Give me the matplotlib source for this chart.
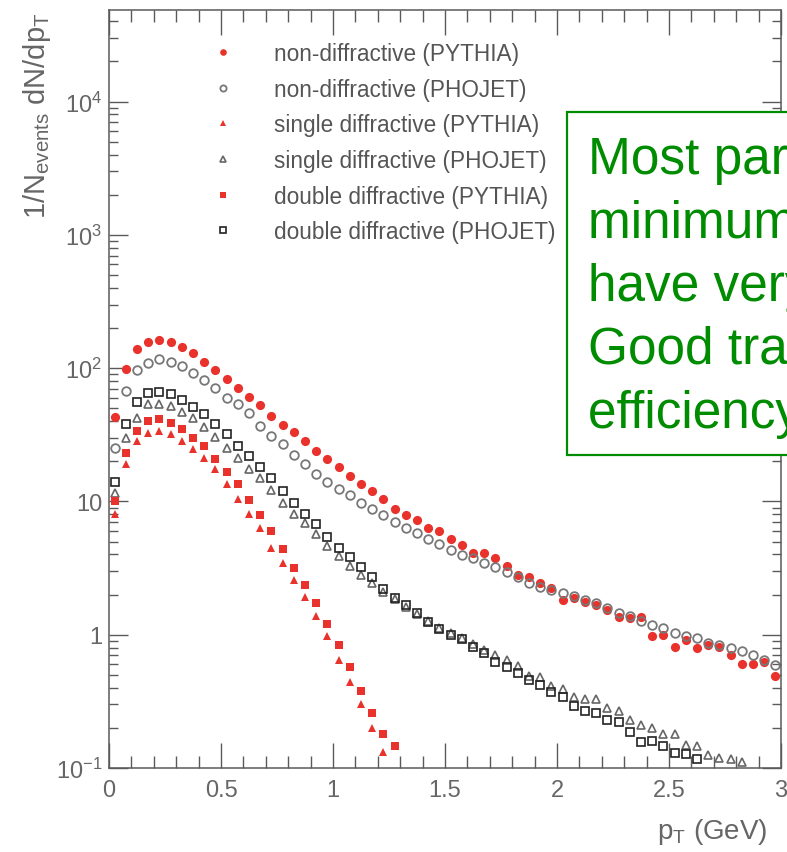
import numpy as np
import matplotlib
matplotlib.use("Agg")
import matplotlib.pyplot as plt
from matplotlib.patches import Rectangle
from matplotlib.ticker import FixedLocator, FixedFormatter, LogLocator, MultipleLocator, NullFormatter

plt.rcParams['font.family'] = ['Liberation Sans', 'DejaVu Sans']
plt.rcParams['mathtext.fontset'] = 'custom'
plt.rcParams['mathtext.rm'] = 'Liberation Sans'
plt.rcParams['mathtext.it'] = 'Liberation Sans:italic'

# histogram bin centres (0.05 GeV bins)
pt = np.round(np.arange(0.025, 3.0, 0.05), 3)

nd_pythia = [43, 99, 140, 157, 164, 156, 144, 129, 111, 97,
             83, 71, 61, 53, 44, 37.6, 32.9, 28.2, 24.0, 20.9,
             18.2, 15.4, 13.6, 11.9, 10.5, 8.7, 7.9, 7.2, 6.3, 6.0,
             5.2, 4.7, 4.1, 4.1, 3.76, 3.27, 2.8, 2.7, 2.44, 2.24,
             1.82, 1.89, 1.76, 1.67, 1.54, 1.36, 1.34, 1.36, 0.98, 1.0,
             0.81, 0.92, 0.80, 0.84, 0.81, 0.70, 0.60, 0.60, 0.62, 0.49]
nd_phojet = [25, 67, 97, 110, 117, 112, 103, 92, 81, 71,
             60, 54, 46, 37, 31, 27, 22.4, 19.2, 16.2, 13.9,
             12.5, 11.1, 9.8, 8.8, 7.9, 7.0, 6.3, 5.8, 5.2, 4.8,
             4.3, 3.95, 3.75, 3.45, 3.2, 2.95, 2.7, 2.44, 2.28, 2.18,
             2.06, 1.95, 1.83, 1.72, 1.58, 1.46, 1.37, 1.27, 1.19, 1.13,
             1.03, 0.97, 0.94, 0.87, 0.84, 0.80, 0.75, 0.71, 0.65, 0.59]
sd_pythia = [8.1, 19.2, 28.5, 32.5, 33.7, 32, 28.5, 24.9, 21.3, 17.6,
             13.6, 10.5, 8.1, 6.3, 4.5, 3.45, 2.57, 1.93, 1.37, 0.97,
             0.65, 0.44, 0.30, 0.20, 0.131]
sd_phojet = [11.5, 30, 42, 54, 54, 52, 47, 42, 36, 30.5,
             25.3, 21.3, 17.6, 14.9, 12.1, 9.8, 8.1, 6.9, 5.7, 4.6,
             3.9, 3.3, 2.8, 2.45, 2.1, 1.85, 1.62, 1.43, 1.27, 1.13,
             1.03, 0.95, 0.85, 0.77, 0.70, 0.65, 0.58, 0.49, 0.48, 0.41,
             0.39, 0.34, 0.33, 0.33, 0.28, 0.27, 0.23, 0.21, 0.20, 0.18,
             0.18, 0.15, 0.146, 0.125, 0.119, 0.117, 0.111]
dd_pythia = [10, 23, 34, 40, 41.6, 38.9, 35, 30, 26.2, 20.9,
             16.5, 13.4, 10.2, 7.9, 5.97, 4.4, 3.16, 2.36, 1.73, 1.21,
             0.83, 0.57, 0.38, 0.26, 0.18, 0.146]
dd_phojet = [13.9, 38, 56, 65, 66, 64, 58, 51, 45, 38,
             32, 26, 22, 18, 14.9, 11.9, 9.7, 8.1, 6.8, 5.4,
             4.5, 3.8, 3.2, 2.7, 2.22, 1.9, 1.66, 1.46, 1.25, 1.1,
             1.0, 0.93, 0.81, 0.73, 0.62, 0.57, 0.52, 0.46, 0.42, 0.37,
             0.34, 0.29, 0.27, 0.26, 0.23, 0.22, 0.186, 0.156, 0.16, 0.146,
             0.13, 0.127, 0.117]

labels = ["non-diffractive (PYTHIA)", "non-diffractive (PHOJET)",
          "single diffractive (PYTHIA)", "single diffractive (PHOJET)",
          "double diffractive (PYTHIA)", "double diffractive (PHOJET)"]
yticks = [0.1, 1, 10, 100, 1000, 10000]
ytick_labels = [r'$10^{-1}$', '1', '10', r'$10^{2}$', r'$10^{3}$', r'$10^{4}$']
xticks = [0, 0.5, 1, 1.5, 2, 2.5, 3]
xtick_labels = ['0', '0.5', '1', '1.5', '2', '2.5', '3']

red = '#e8322b'
grey = '#777777'
axcol = '#5a5a5a'
green = '#008c00'

W, H = 787, 853
fig = plt.figure(figsize=(W / 100, H / 100), dpi=100)
ax = fig.add_axes([109 / W, (H - 769) / H, (781 - 109) / W, (769 - 11) / H])

def n(a):
    return pt[:len(a)], a

ax.plot(*n(nd_pythia), 'o', ms=6.6, mfc=red, mec=red, mew=0, ls='none', label=labels[0])
ax.plot(*n(nd_phojet), 'o', ms=6.2, mfc='none', mec=grey, mew=1.3, ls='none', label=labels[1])
ax.plot(*n(sd_pythia), '^', ms=5.4, mfc=red, mec=red, mew=0, ls='none', label=labels[2])
ax.plot(*n(sd_phojet), '^', ms=5.8, mfc='none', mec='#666666', mew=1.2, ls='none', label=labels[3])
ax.plot(*n(dd_pythia), 's', ms=6.0, mfc=red, mec=red, mew=0, ls='none', label=labels[4])
ax.plot(*n(dd_phojet), 's', ms=5.8, mfc='none', mec='#222222', mew=1.2, ls='none', label=labels[5])

ax.set_yscale('log')
ax.set_xlim(0, 3)
ax.set_ylim(0.1, 10 ** 4.687)

ax.xaxis.set_major_locator(FixedLocator(xticks))
ax.xaxis.set_major_formatter(FixedFormatter(xtick_labels))
ax.xaxis.set_minor_locator(MultipleLocator(0.1))
ax.yaxis.set_major_locator(FixedLocator(yticks))
ax.yaxis.set_major_formatter(FixedFormatter(ytick_labels))
ax.yaxis.set_minor_locator(LogLocator(base=10, subs=range(2, 10), numticks=20))
ax.yaxis.set_minor_formatter(NullFormatter())

for s in ax.spines.values():
    s.set_color(axcol)
    s.set_linewidth(1.1)
ax.tick_params(which='both', direction='in', top=True, right=True, colors=axcol,
               labelcolor='#666666', labelsize=17, width=1.0)
ax.tick_params(axis='x', which='major', length=18, pad=8)
ax.tick_params(axis='x', which='minor', length=8.5)
ax.tick_params(axis='y', which='major', length=13.5, pad=5)
ax.tick_params(axis='y', which='minor', length=6.5)

leg = ax.legend(loc='upper left', bbox_to_anchor=(212 / W, 1 - 43 / H),
                bbox_transform=fig.transFigure, frameon=False, fontsize=16.3,
                handlelength=1.0, handletextpad=1.75, labelspacing=0.56,
                borderpad=0, borderaxespad=0, markerscale=0.72)
for t in leg.get_texts():
    t.set_color('#555555')

fig.text(0.047, 1 - 12 / H, r'1/N$_{\rm events}$ dN/dp$_{\rm T}$', rotation=90,
         ha='center', va='top', fontsize=21, color='#666666')
fig.text(767 / W, 1 - 839 / H, r'p$_{\rm T}$ (GeV)', ha='right', va='baseline',
         fontsize=20, color='#666666')

# annotation box (runs off the right edge of the slide)
box = Rectangle((567 / W, 1 - 456 / H), (830 - 567) / W, (456 - 113) / H,
                transform=fig.transFigure, facecolor='white', edgecolor=green,
                linewidth=1.6, zorder=10)
fig.add_artist(box)
fig.text(588 / W, 1 - 136 / H,
         "Most particles in\nminimum bias events\nhave very low pT.\nGood tracking\nefficiency needed!",
         ha='left', va='top', fontsize=37, color=green, linespacing=1.38, zorder=11)

fig.savefig('out.png', dpi=100)
